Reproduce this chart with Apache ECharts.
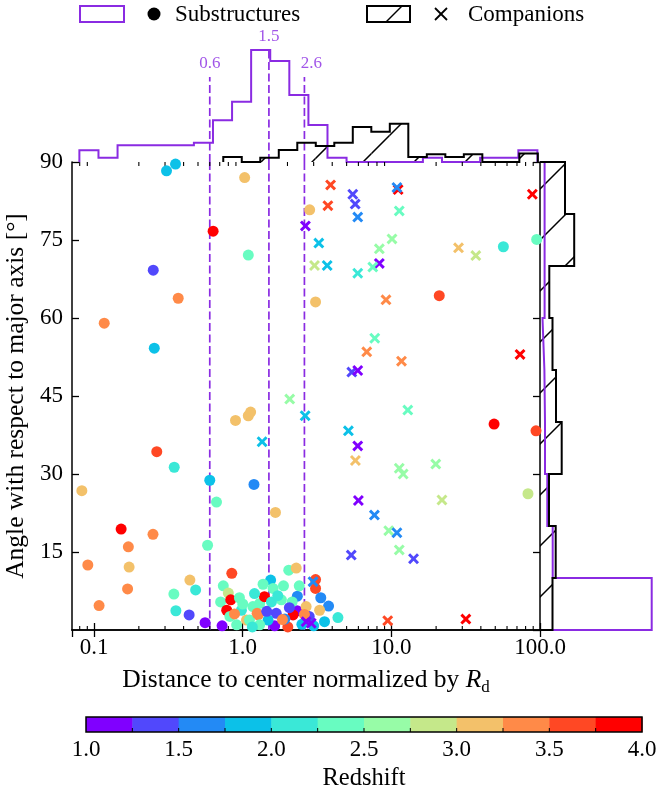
<!DOCTYPE html>
<html><head><meta charset="utf-8">
<script src="https://cdn.jsdelivr.net/npm/echarts@6/dist/echarts.min.js"></script>
<style>html,body{margin:0;padding:0;background:#fff}#c{width:659px;height:794px}</style>
</head><body><div id="c"></div>
<script>
// ---------------- data ----------------
const REDSHIFT_BOUNDS = [1.0,1.25,1.5,1.75,2.0,2.25,2.5,2.75,3.0,3.25,3.5,3.75,4.0];
const REDSHIFT_COLORS = ['#8000ff','#5148fc','#238af5','#0cc1e8','#3ae8d7','#68fcc1','#97fca7','#c5e88a','#f3c16a','#ff8a48','#ff4824','#ff0000'];
const CBAR_TICKS = [1.0,1.5,2.0,2.5,3.0,3.5,4.0];
const X_MAJOR_TICKS = [0.1, 1, 10, 100];
const X_MINOR_TICKS = [0.08,0.09,0.2,0.3,0.4,0.5,0.6,0.7,0.8,0.9,2,3,4,5,6,7,8,9,20,30,40,50,60,70,80,90];
const Y_TICKS = [15,30,45,60,75,90];

// [distance / R_d, angle (deg), redshift]
const SUBSTRUCTURES = [
 [0.307,88.3,1.9],[0.353,89.6,1.9],[1.03,87.0,3.1],[0.632,76.7,3.9],[2.82,80.8,3.1],[1.09,72.1,2.4],
 [0.25,69.2,1.4],[0.368,63.8,3.4],[0.117,59.0,3.4],[0.254,54.2,1.9],[3.09,63.1,3.1],[21.0,64.3,3.6],
 [56.7,73.7,2.1],[95.0,75.1,2.4],[0.894,40.3,3.1],[1.09,41.2,3.1],[1.13,41.9,3.1],[0.264,34.3,3.6],
 [0.346,31.3,2.1],[0.0827,26.8,3.1],[0.60,28.8,1.9],[1.19,28.0,1.6],[0.666,24.6,2.4],[1.66,22.6,3.1],
 [0.152,19.4,3.9],[0.170,16.0,3.4],[0.249,18.4,3.4],[0.0907,12.5,3.4],[0.172,12.1,3.1],[0.58,16.3,2.4],
 [0.168,7.9,3.4],[0.108,4.7,3.4],[0.344,6.9,2.4],[0.355,3.7,2.1],[0.436,2.9,1.4],[0.441,9.6,3.1],
 [0.482,7.7,2.1],[0.558,1.4,1.1],[0.844,10.9,3.6],[49.1,39.6,3.9],[94.0,38.3,3.6],[83.0,26.2,2.9],
 [0.726,0.8,1.1],[0.74,8.5,2.4],[0.80,7.1,2.9],[0.71,5.4,2.4],[0.83,5.8,3.9],[0.78,3.8,3.9],
 [0.82,2.6,2.4],[0.98,3.8,2.1],[0.91,1.0,2.4],[1.06,1.9,3.1],[1.17,4.5,2.4],[1.30,5.1,2.4],
 [1.40,6.4,3.9],[1.54,9.6,1.9],[1.37,8.8,2.4],[1.60,8.0,2.4],[1.82,5.8,2.4],[1.88,8.5,2.4],
 [2.04,11.5,2.4],[2.29,11.9,3.1],[2.33,6.5,1.6],[2.32,3.7,1.1],[2.18,2.9,3.9],[2.01,0.6,3.6],
 [1.68,3.2,1.4],[1.64,0.8,1.1],[1.48,1.9,1.9],[1.27,2.9,3.4],[1.30,1.0,2.4],[2.67,4.5,3.1],
 [3.09,9.7,3.6],[3.09,8.0,3.6],[3.78,4.6,1.6],[3.29,3.8,3.1],[3.55,1.6,1.9],[4.37,2.4,2.1],
 [1.56,5.4,2.1],[2.15,5.4,2.4],[1.11,1.9,2.4],[1.25,3.2,3.4],[0.95,6.2,2.4],[1.45,3.6,1.4],
 [1.92,2.1,1.6],[2.50,1.1,1.9],[2.80,2.6,1.4],[1.16,0.6,2.1],[1.72,6.6,2.1],[0.88,3.1,3.4],
 [2.06,4.3,1.4],[3.35,6.2,1.6],[2.60,3.0,3.4],[1.00,5.0,2.4],[1.20,7.0,2.1],[2.40,8.5,2.4],
 [3.00,0.8,1.9],[1.85,2.0,3.4]
];
const COMPANIONS = [
 [3.90,85.6,3.6],[5.50,83.8,1.4],[5.71,81.9,1.4],[3.74,81.6,3.6],[5.94,79.4,1.6],[11.1,84.7,3.9],
 [10.9,85.1,1.6],[11.3,80.6,2.4],[2.64,77.7,1.1],[3.25,74.4,1.9],[10.1,75.2,2.6],[8.3,73.3,2.6],
 [28.3,73.5,3.1],[37.0,72.0,2.9],[88.8,83.8,3.9],[3.04,70.1,2.9],[3.70,70.1,1.9],[8.3,70.5,1.1],
 [7.5,69.8,2.4],[5.94,68.6,2.1],[9.2,63.5,3.4],[7.73,56.1,2.4],[6.83,53.5,3.4],[11.7,51.7,3.4],
 [5.42,49.6,1.4],[5.94,49.9,1.1],[73.4,53.0,3.9],[2.07,44.4,2.6],[2.63,41.2,1.9],[1.35,36.2,1.9],
 [12.9,42.3,2.4],[5.14,38.3,1.9],[5.94,35.4,1.1],[5.73,32.6,3.1],[11.3,31.1,2.6],[12.0,30.0,2.6],
 [19.9,31.9,2.6],[21.9,25.0,2.9],[6.0,24.9,1.1],[7.69,22.1,1.6],[9.6,19.1,2.6],[10.9,18.7,1.6],
 [11.3,15.4,2.6],[5.37,14.4,1.4],[14.1,13.7,1.4],[2.97,9.3,1.6],[9.45,1.8,3.6],[31.7,2.1,3.9],
 [2.67,1.6,1.1],[2.89,1.3,1.1]
];

const MEDIAN_VALUES = [0.6, 1.5, 2.6];
const MEDIAN_LABELS = ['0.6', '1.5', '2.6'];
const MEDIAN_TOPS = [85, 112, 85];

// top histograms (distance), heights in arbitrary (normalised) units
const TOP_SUB_EDGES = [0.0796,0.1070,0.1438,0.1933,0.2598,0.3491,0.4692,0.6306,0.8476,1.139,1.531,2.058,2.766,3.717,4.995,6.714,9.024,12.13,16.30,21.91,29.44,39.57,53.19,71.49,96.07];
const TOP_SUB_HEIGHTS = [11.7,4.3,16.7,16.7,16.7,16.7,19.3,41.7,60.3,112,101,67,37,4.3,0,0,0,0,4.3,0,0,4.3,4.3,11.7];
const TOP_COMP_EDGES = [0.7396,0.9851,1.312,1.748,2.328,3.101,4.130,5.501,7.328,9.761,13.00,17.32,23.07,30.73,40.93,54.52,72.61,96.72];
const TOP_COMP_HEIGHTS = [5,0,4.3,12,19.3,16,19.3,35,30.3,38.3,5,7.8,5,7.8,0,0,8.6];

// right histograms (angle)
const ANGLE_EDGES = [0,10,20,30,40,50,60,70,80,90];
const RIGHT_SUB_WIDTHS = [111.7,12.7,7.3,5,4.4,2.5,4.6,4.6,4.6];
const RIGHT_COMP_WIDTHS = [12.5,15.7,9,21.7,16,12.5,9.3,34.2,25];

// ---------------- helpers ----------------
const FONT = 'Liberation Serif';
const PURPLE = '#8a2be2';
const CROSS = 'path://M0,1.9L1.9,0L5,3.1L8.1,0L10,1.9L6.9,5L10,8.1L8.1,10L5,6.9L1.9,10L0,8.1L3.1,5Z';
const TICK_FS = 23, TITLE_FS = 25.5, LEGEND_FS = 23;

function zColor(z){
  for (let i = 0; i < REDSHIFT_COLORS.length; i++) if (z < REDSHIFT_BOUNDS[i+1]) return REDSHIFT_COLORS[i];
  return REDSHIFT_COLORS[REDSHIFT_COLORS.length-1];
}
function topOutline(edges, h){
  const p = [[edges[0], 0]];
  for (let i = 0; i < h.length; i++){ p.push([edges[i], h[i]]); p.push([edges[i+1], h[i]]); }
  p.push([edges[edges.length-1], 0]);
  return p;
}
function rightOutline(edges, w){
  const p = [[0, edges[0]]];
  for (let i = 0; i < w.length; i++){ p.push([w[i], edges[i]]); p.push([w[i], edges[i+1]]); }
  p.push([0, edges[edges.length-1]]);
  return p;
}
function bins(edges, h){ const out=[]; for (let i=0;i<h.length;i++) if (h[i]>0) out.push([edges[i], edges[i+1], h[i]]); return out; }

function makeHatch(){
  const P = 51, c0 = 15;
  const cv = document.createElement('canvas'); cv.width = P; cv.height = P;
  const g = cv.getContext('2d');
  g.strokeStyle = '#000'; g.lineWidth = 1.5;
  g.beginPath();
  for (const c of [c0, c0 + P]) { g.moveTo(-6, c + 6); g.lineTo(c + 6, -6); }
  g.stroke();
  return {image: cv, repeat: 'repeat'};
}
const HATCH = makeHatch();

const axisLineStyle = {show: true, lineStyle: {color: '#000', width: 1.5}};
const tickIn = {show: true, inside: true, length: 7, lineStyle: {color: '#000', width: 1.3}};
const labelFont = {color: '#000', fontFamily: FONT, fontSize: TICK_FS};
const DASH = {color: PURPLE, width: 1.7, type: [8, 3.5]};

function fmtLog(v){
  const l = Math.log10(v);
  if (Math.abs(l - Math.round(l)) > 1e-6) return '';
  return Math.pow(10, Math.round(l)).toFixed(1);
}

const chart = echarts.init(document.getElementById('c'), null, {renderer: 'canvas'});

const series = [];
// dashed median lines, main panel
MEDIAN_VALUES.forEach(m => series.push({
  type: 'line', xAxisIndex: 0, yAxisIndex: 0, data: [[m, 0], [m, 90]], symbol: 'none', silent: true, z: 1,
  lineStyle: DASH
}));
// dashed median lines, top panel
MEDIAN_VALUES.forEach((m, i) => series.push({
  type: 'line', xAxisIndex: 2, yAxisIndex: 2, data: [[m, 0], [m, MEDIAN_TOPS[i]]], symbol: 'none', silent: true, z: 1,
  lineStyle: DASH
}));
series.push({
  type: 'scatter', xAxisIndex: 2, yAxisIndex: 2, symbolSize: 1, silent: true, z: 5,
  itemStyle: {color: 'rgba(0,0,0,0)'},
  data: MEDIAN_VALUES.map((m, i) => ({value: [m, MEDIAN_TOPS[i]], label: {offset: i === 2 ? [7, 0] : [0, 0]}})),
  label: {show: true, position: 'top', distance: 4, color: PURPLE, fontFamily: FONT, fontSize: 17,
          formatter: p => MEDIAN_LABELS[p.dataIndex]}
});
// top histograms
series.push({type: 'line', xAxisIndex: 2, yAxisIndex: 2, data: topOutline(TOP_SUB_EDGES, TOP_SUB_HEIGHTS),
  symbol: 'none', silent: true, z: 3, lineStyle: {color: PURPLE, width: 2, join: 'miter'}});
series.push({type: 'custom', xAxisIndex: 2, yAxisIndex: 2, silent: true, z: 3,
  data: bins(TOP_COMP_EDGES, TOP_COMP_HEIGHTS),
  renderItem: (params, api) => {
    const a = api.coord([api.value(0), 0]), b = api.coord([api.value(1), api.value(2)]);
    return {type: 'rect', shape: {x: a[0], y: b[1], width: b[0]-a[0], height: a[1]-b[1]}, style: {fill: HATCH, stroke: null}};
  }});
series.push({type: 'line', xAxisIndex: 2, yAxisIndex: 2, data: topOutline(TOP_COMP_EDGES, TOP_COMP_HEIGHTS),
  symbol: 'none', silent: true, z: 4, lineStyle: {color: '#000', width: 2, join: 'miter'}});
// right histograms
series.push({type: 'line', xAxisIndex: 3, yAxisIndex: 3, data: rightOutline(ANGLE_EDGES, RIGHT_SUB_WIDTHS),
  symbol: 'none', silent: true, z: 3, lineStyle: {color: PURPLE, width: 2, join: 'miter'}});
series.push({type: 'custom', xAxisIndex: 3, yAxisIndex: 3, silent: true, z: 3,
  data: ANGLE_EDGES.slice(0, -1).map((e, i) => [RIGHT_COMP_WIDTHS[i], e, ANGLE_EDGES[i+1]]),
  renderItem: (params, api) => {
    const a = api.coord([0, api.value(1)]), b = api.coord([api.value(0), api.value(2)]);
    return {type: 'rect', shape: {x: a[0], y: b[1], width: b[0]-a[0], height: a[1]-b[1]}, style: {fill: HATCH, stroke: null}};
  }});
series.push({type: 'line', xAxisIndex: 3, yAxisIndex: 3, data: rightOutline(ANGLE_EDGES, RIGHT_COMP_WIDTHS),
  symbol: 'none', silent: true, z: 4, lineStyle: {color: '#000', width: 2, join: 'miter'}});
// minor log ticks (bottom and top of main panel)
series.push({type: 'custom', xAxisIndex: 0, yAxisIndex: 0, silent: true, z: 6,
  data: X_MINOR_TICKS.map(v => [v, 0]),
  renderItem: (params, api) => {
    const v = api.value(0);
    const b = api.coord([v, 0]), t = api.coord([v, 90]);
    const st = {stroke: '#000', lineWidth: 1.1};
    return {type: 'group', children: [
      {type: 'line', shape: {x1: b[0], y1: b[1], x2: b[0], y2: b[1]-4}, style: st},
      {type: 'line', shape: {x1: t[0], y1: t[1], x2: t[0], y2: t[1]+4}, style: st}]};
  }});
// scatter
series.push({type: 'scatter', name: 'Substructures', xAxisIndex: 0, yAxisIndex: 0, z: 7,
  symbol: 'circle', symbolSize: 11, data: SUBSTRUCTURES,
  itemStyle: {color: p => zColor(p.value[2]), opacity: 1}});
series.push({type: 'scatter', name: 'Companions', xAxisIndex: 0, yAxisIndex: 0, z: 8,
  symbol: CROSS, symbolSize: 11, data: COMPANIONS,
  itemStyle: {color: p => zColor(p.value[2]), opacity: 1}});
// colorbar
series.push({type: 'custom', xAxisIndex: 4, yAxisIndex: 4, silent: true, z: 2,
  data: REDSHIFT_COLORS.map((c, i) => [REDSHIFT_BOUNDS[i], REDSHIFT_BOUNDS[i+1], i]),
  renderItem: (params, api) => {
    const a = api.coord([api.value(0), 0]), b = api.coord([api.value(1), 1]);
    return {type: 'rect', shape: {x: a[0], y: b[1], width: b[0]-a[0]+0.5, height: a[1]-b[1]},
            style: {fill: REDSHIFT_COLORS[api.value(2)], stroke: null}};
  }});
series.push({type: 'custom', xAxisIndex: 4, yAxisIndex: 4, silent: true, z: 3,
  data: REDSHIFT_BOUNDS.slice(1, -1).map(v => [v, 0]),
  renderItem: (params, api) => {
    const b = api.coord([api.value(0), 0]);
    return {type: 'line', shape: {x1: b[0], y1: b[1], x2: b[0], y2: b[1]-4}, style: {stroke: '#000', lineWidth: 1}};
  }});
series.push({type: 'custom', xAxisIndex: 4, yAxisIndex: 4, silent: true, z: 4,
  data: [[REDSHIFT_BOUNDS[0], REDSHIFT_BOUNDS[REDSHIFT_BOUNDS.length-1]]],
  renderItem: (params, api) => {
    const a = api.coord([api.value(0), 0]), b = api.coord([api.value(1), 1]);
    return {type: 'rect', shape: {x: a[0], y: b[1], width: b[0]-a[0], height: a[1]-b[1]},
            style: {fill: null, stroke: '#000', lineWidth: 1.5}};
  }});

const legendFont = LEGEND_FS + 'px "Liberation Serif"';
const option = {
  animation: false,
  backgroundColor: '#fff',
  textStyle: {fontFamily: FONT},
  grid: [
    {left: 72, top: 162, width: 468, height: 468, outerBoundsMode: 'none'},
    {left: 72, top: 50, width: 468, height: 112, outerBoundsMode: 'none'},
    {left: 540, top: 162, width: 112, height: 468, outerBoundsMode: 'none'},
    {left: 86, top: 717, width: 556, height: 15, outerBoundsMode: 'none'}
  ],
  xAxis: [
    {gridIndex: 0, type: 'log', logBase: 10, min: 0.071, max: 100, position: 'bottom',
     axisLine: axisLineStyle, axisTick: tickIn, splitLine: {show: false}, minorTick: {show: false},
     axisLabel: Object.assign({margin: 6, formatter: fmtLog, showMinLabel: false}, labelFont),
     name: 'Distance to center normalized by {i|R}{s|d}', nameLocation: 'middle', nameGap: 32,
     nameTextStyle: {color: '#000', fontFamily: FONT, fontSize: TITLE_FS, lineHeight: 32,
       rich: {i: {fontStyle: 'italic', fontFamily: FONT, fontSize: TITLE_FS, color: '#000', lineHeight: 32},
              s: {fontFamily: FONT, fontSize: 17, color: '#000', lineHeight: 14, verticalAlign: 'bottom'}}}},
    {gridIndex: 0, type: 'log', logBase: 10, min: 0.071, max: 100, position: 'top',
     axisLine: axisLineStyle, axisTick: tickIn, splitLine: {show: false}, axisLabel: {show: false}},
    {gridIndex: 1, type: 'log', logBase: 10, min: 0.071, max: 100, show: false},
    {gridIndex: 2, type: 'value', min: 0, max: 112, show: false},
    {gridIndex: 3, type: 'value', min: 1, max: 4, interval: 0.5, position: 'bottom',
     axisLine: {show: false}, axisTick: {show: false}, splitLine: {show: false},
     axisLabel: Object.assign({margin: 6, formatter: v => v.toFixed(1)}, labelFont),
     name: 'Redshift', nameLocation: 'middle', nameGap: 34,
     nameTextStyle: {color: '#000', fontFamily: FONT, fontSize: 24.5}}
  ],
  yAxis: [
    {gridIndex: 0, type: 'value', min: 0, max: 90, interval: 15, position: 'left',
     axisLine: axisLineStyle, axisTick: tickIn, splitLine: {show: false},
     axisLabel: Object.assign({margin: 9, showMinLabel: false}, labelFont),
     name: 'Angle with respect to major axis [°]', nameLocation: 'middle', nameGap: 36, nameRotate: 90,
     nameTextStyle: {color: '#000', fontFamily: FONT, fontSize: TITLE_FS}},
    {gridIndex: 0, type: 'value', min: 0, max: 90, interval: 15, position: 'right',
     axisLine: axisLineStyle, axisTick: tickIn, splitLine: {show: false}, axisLabel: {show: false}},
    {gridIndex: 1, type: 'value', min: 0, max: 112, show: false},
    {gridIndex: 2, type: 'value', min: 0, max: 90, show: false},
    {gridIndex: 3, type: 'value', min: 0, max: 1, show: false}
  ],
  graphic: [
    {type: 'rect', shape: {x: 80, y: 6, width: 44, height: 16}, style: {fill: null, stroke: PURPLE, lineWidth: 2}},
    {type: 'circle', shape: {cx: 154, cy: 14, r: 6.5}, style: {fill: '#000'}},
    {type: 'text', x: 175, y: 15, style: {text: 'Substructures', fill: '#000', font: legendFont, verticalAlign: 'middle'}},
    {type: 'rect', shape: {x: 367, y: 6, width: 43, height: 16}, style: {fill: null, stroke: '#000', lineWidth: 2}},
    {type: 'line', shape: {x1: 386, y1: 22, x2: 402, y2: 6}, style: {stroke: '#000', lineWidth: 1.5}},
    {type: 'line', shape: {x1: 435, y1: 8, x2: 447, y2: 20}, style: {stroke: '#000', lineWidth: 1.8}},
    {type: 'line', shape: {x1: 435, y1: 20, x2: 447, y2: 8}, style: {stroke: '#000', lineWidth: 1.8}},
    {type: 'text', x: 468, y: 15, style: {text: 'Companions', fill: '#000', font: legendFont, verticalAlign: 'middle'}}
  ],
  series: series
};
chart.setOption(option);
</script></body></html>
